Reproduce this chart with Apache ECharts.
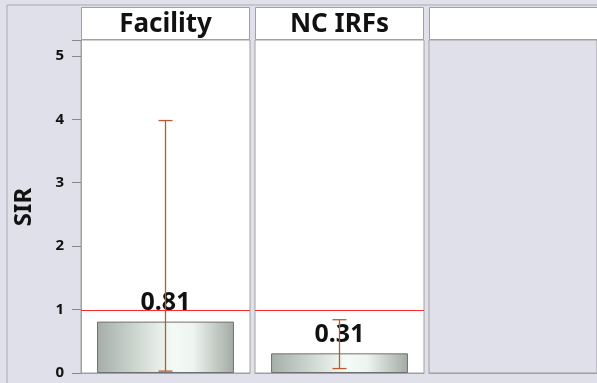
<!DOCTYPE html>
<html><head><meta charset="utf-8">
<script src="https://cdn.jsdelivr.net/npm/echarts@6/dist/echarts.min.js"></script>
<style>html,body{margin:0;padding:0;background:#e0e0ea}#c{width:597px;height:383px}</style>
</head><body><div id="c"></div>
<script>
const panels = ['Facility', 'NC IRFs', ''];
const sirValues = [0.81, 0.31];
const lowerCI = [0.03, 0.07];
const upperCI = [3.98, 0.84];
const yTicks = [0, 1, 2, 3, 4, 5];
const refValue = 1;

const chart = echarts.init(document.getElementById('c'));
const lefts = [81, 255, 429];
const widths = [169, 169, 200];
const TOP = 40, H = 333;
const FONT = 'Noto Sans';

const grids = [], xAxes = [], yAxes = [], series = [], graphics = [];
graphics.push({type: 'rect', shape: {x: 7, y: 5, width: 700, height: 500}, style: {fill: '#e0e0ea', stroke: '#a9a9b0', lineWidth: 1}, z: -10});
graphics.push({type: 'text', x: 24, y: 207, rotation: Math.PI / 2,
  style: {text: 'SIR', font: 'bold 24px "' + FONT + '"', fill: '#111', textAlign: 'center', textVerticalAlign: 'middle'}, z: 10});

panels.forEach((p, i) => {
  grids.push({left: lefts[i], top: TOP, width: widths[i], height: H, show: true,
    backgroundColor: i < 2 ? '#ffffff' : '#e0e0ea', borderColor: '#a0a0a0', borderWidth: 1});
  xAxes.push({type: 'category', gridIndex: i, data: [p], axisLine: {show: true, lineStyle: {color: '#a0a0a0'}},
    axisTick: {show: false}, axisLabel: {show: false}});
  yAxes.push({type: 'value', gridIndex: i, min: 0, max: 5.25, interval: 1,
    axisLine: {show: i === 0, lineStyle: {color: '#a0a0a0'}},
    axisTick: {show: i === 0, length: 9, lineStyle: {color: '#888'}},
    axisLabel: {show: i === 0, margin: 17, fontFamily: FONT, fontWeight: 'bold', fontSize: 15, color: '#111',
      formatter: v => (yTicks.indexOf(v) >= 0 ? String(v) : '')},
    splitLine: {show: false}});
  // header
  graphics.push({type: 'rect', shape: {x: lefts[i] + 0.5, y: 7.5, width: widths[i] - 1, height: 32},
    style: {fill: '#ffffff', stroke: '#a0a0a0', lineWidth: 1}, z: 5});
  graphics.push({type: 'text', x: lefts[i] + widths[i] / 2, y: 25, style: {text: p, font: 'bold 26px "' + FONT + '"', fill: '#111',
    textAlign: 'center', textVerticalAlign: 'middle'}, z: 6});
  if (i < 2) {
    series.push({type: 'bar', xAxisIndex: i, yAxisIndex: i, data: [sirValues[i]], barWidth: '81%', z: 2,
      itemStyle: {borderColor: '#707070', borderWidth: 1,
        color: new echarts.graphic.LinearGradient(0, 0, 1, 0, [
          {offset: 0, color: '#a5aea8'}, {offset: 0.55, color: '#f4fbf6'}, {offset: 0.7, color: '#eef5f0'}, {offset: 1, color: '#a2aaa4'}])},
      label: {show: true, position: 'top', distance: 6, fontFamily: FONT, fontWeight: 'bold', fontSize: 25, color: '#111',
        formatter: d => d.value.toFixed(2)}
    });
    // reference line at SIR = 1
    series.push({type: 'custom', xAxisIndex: i, yAxisIndex: i, z: 4, data: [[0, refValue]],
      renderItem: (params, api) => {
        const pt = api.coord([api.value(0), api.value(1)]);
        const cs = params.coordSys;
        const y = Math.round(pt[1]) + 0.5;
        return {type: 'line', shape: {x1: cs.x, y1: y, x2: cs.x + cs.width, y2: y},
          style: {stroke: '#ff2a2a', lineWidth: 1}};
      }});
    // error bars
    series.push({type: 'custom', xAxisIndex: i, yAxisIndex: i, z: 5, data: [[0, lowerCI[i], upperCI[i]]],
      renderItem: (params, api) => {
        const lo = api.coord([api.value(0), api.value(1)]);
        const hi = api.coord([api.value(0), api.value(2)]);
        const hw = 7;
        const st = {stroke: '#bb5a30', lineWidth: 1.3};
        return {type: 'group', children: [
          {type: 'line', shape: {x1: lo[0], y1: lo[1], x2: hi[0], y2: hi[1]}, style: st},
          {type: 'line', shape: {x1: lo[0] - hw, y1: lo[1], x2: lo[0] + hw, y2: lo[1]}, style: st},
          {type: 'line', shape: {x1: hi[0] - hw, y1: hi[1], x2: hi[0] + hw, y2: hi[1]}, style: st}
        ]};
      }});
  }
});

chart.setOption({backgroundColor: '#e0e0ea', animation: false, grid: grids, xAxis: xAxes, yAxis: yAxes, series: series, graphic: graphics});
</script></body></html>
